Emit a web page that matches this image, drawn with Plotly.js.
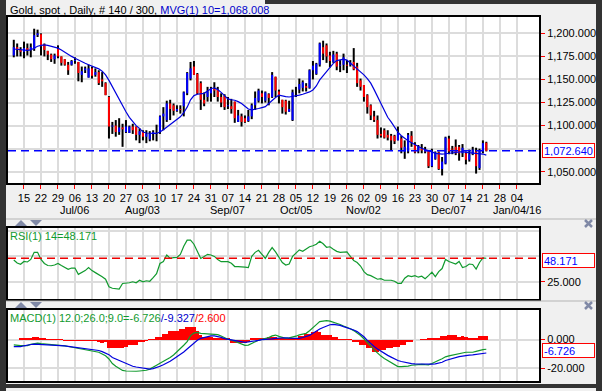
<!DOCTYPE html>
<html><head><meta charset="utf-8">
<script src="https://cdn.plot.ly/plotly-3.0.1.min.js"></script>
<style>html,body{margin:0;padding:0;background:#f0f0f0;}#chart{width:602px;height:391px;}</style>
</head><body><div id="chart"></div>
<script>
const dates = ['2015-06-10','2015-06-11','2015-06-12','2015-06-15','2015-06-16','2015-06-17','2015-06-18','2015-06-19','2015-06-22','2015-06-23',
'2015-06-24','2015-06-25','2015-06-26','2015-06-29','2015-06-30','2015-07-01','2015-07-02','2015-07-03','2015-07-06','2015-07-07',
'2015-07-08','2015-07-09','2015-07-10','2015-07-13','2015-07-14','2015-07-15','2015-07-16','2015-07-17','2015-07-20','2015-07-21',
'2015-07-22','2015-07-23','2015-07-24','2015-07-27','2015-07-28','2015-07-29','2015-07-30','2015-07-31','2015-08-03','2015-08-04',
'2015-08-05','2015-08-06','2015-08-07','2015-08-10','2015-08-11','2015-08-12','2015-08-13','2015-08-14','2015-08-17','2015-08-18',
'2015-08-19','2015-08-20','2015-08-21','2015-08-24','2015-08-25','2015-08-26','2015-08-27','2015-08-28','2015-08-31','2015-09-01',
'2015-09-02','2015-09-03','2015-09-04','2015-09-07','2015-09-08','2015-09-09','2015-09-10','2015-09-11','2015-09-14','2015-09-15',
'2015-09-16','2015-09-17','2015-09-18','2015-09-21','2015-09-22','2015-09-23','2015-09-24','2015-09-25','2015-09-28','2015-09-29',
'2015-09-30','2015-10-01','2015-10-02','2015-10-05','2015-10-06','2015-10-07','2015-10-08','2015-10-09','2015-10-12','2015-10-13',
'2015-10-14','2015-10-15','2015-10-16','2015-10-19','2015-10-20','2015-10-21','2015-10-22','2015-10-23','2015-10-26','2015-10-27',
'2015-10-28','2015-10-29','2015-10-30','2015-11-02','2015-11-03','2015-11-04','2015-11-05','2015-11-06','2015-11-09','2015-11-10',
'2015-11-11','2015-11-12','2015-11-13','2015-11-16','2015-11-17','2015-11-18','2015-11-19','2015-11-20','2015-11-23','2015-11-24',
'2015-11-25','2015-11-26','2015-11-27','2015-11-30','2015-12-01','2015-12-02','2015-12-03','2015-12-04','2015-12-07','2015-12-08',
'2015-12-09','2015-12-10','2015-12-11','2015-12-14','2015-12-15','2015-12-16','2015-12-17','2015-12-18','2015-12-21','2015-12-22'];

const open = [1176,1185,1182,1180,1184,1182,1183,1198,1199,1188, 1181,1177,1172,1183,1175,1172,1166,1166,1170,1169, 1155,1160,1152,1162,1155,1158,1150,1146,1131,1099, 1100,1093,1098,1093,1092,1099,1099,1090,1093,1088, 1085,1091,1093,1093,1110,1106,1124,1122,1116,1118, 1121,1135,1151,1164,1156,1146,1128,1131,1135,1140, 1139,1131,1132,1121,1121,1126,1104,1110,1108,1105, 1110,1122,1127,1135,1127,1134,1131,1153,1137,1128, 1127,1115,1106,1137,1139,1141,1143,1141,1160,1156, 1166,1185,1187,1176,1169,1178,1165,1166,1166,1166, 1169,1164,1149,1144,1133,1122,1110,1106,1091,1095, 1090,1089,1089,1084,1086,1072,1072,1089,1079,1073, 1075,1074,1073,1056,1064,1071,1053,1059,1086,1075, 1077,1077,1070,1070,1063,1069,1072,1054,1073,1081.5];
const high = [1193,1189,1185,1191,1189,1189,1205,1204,1200,1189, 1181,1178,1178,1187,1175,1172,1169,1171,1174,1169, 1164,1164,1166,1164,1162,1160,1158,1147,1132,1104, 1106,1108,1102,1106,1100,1102,1099,1097,1095,1095, 1094,1095,1101,1111,1120,1127,1128,1124,1122,1122, 1137,1158,1169,1170,1157,1148,1136,1142,1142,1147, 1142,1135,1134,1131,1129,1126,1117,1113,1111,1117, 1124,1137,1140,1138,1137,1135,1158,1153,1139,1128, 1128,1127,1139,1142,1151,1149,1146,1161,1170,1168, 1190,1192,1189,1180,1181,1180,1171,1178,1171,1171, 1184,1168,1151,1144,1134,1123,1116,1111,1098,1097, 1095,1091,1090,1099,1089,1084,1092,1094,1082,1079, 1080,1077,1073,1075,1072,1072,1066,1088,1089,1078, 1085,1079,1080,1072,1074,1077,1076,1075,1084,1082.5];
const low = [1174,1175,1175,1173,1176,1174,1181,1196,1176,1175, 1171,1169,1167,1173,1165,1165,1155,1165,1167,1148, 1147,1157,1152,1151,1153,1144,1142,1133,1086,1091, 1088,1090,1077,1092,1092,1091,1084,1081,1084,1081, 1083,1084,1083,1091,1095,1104,1106,1111,1115,1113, 1110,1133,1149,1155,1134,1117,1121,1126,1126,1131, 1126,1120,1117,1118,1113,1103,1104,1099,1103,1104, 1107,1117,1125,1124,1125,1122,1130,1131,1124,1113, 1112,1115,1105,1131,1135,1137,1137,1140,1150,1155, 1164,1171,1168,1163,1168,1160,1158,1160,1157,1164, 1160,1142,1138,1126,1113,1106,1104,1086,1087,1086, 1084,1073,1080,1084,1070,1064,1070,1077,1070,1070, 1070,1070,1054,1055,1063,1052,1046,1058,1069,1069, 1068,1062,1066,1058,1061,1068,1048,1052,1070,1072];
const close = [1185,1182,1180,1184,1182,1185,1198,1200,1186,1182, 1177,1172,1176,1175,1168,1166,1160,1170,1171,1157, 1159,1162,1162,1154,1158,1146,1148,1133,1099,1100, 1093,1098,1096,1099,1099,1095,1090,1094,1088,1091, 1091,1093,1093,1110,1113,1124,1118,1116,1118,1117, 1136,1157,1162,1155,1135,1128,1124,1137,1140,1138, 1131,1125,1120,1122,1118,1108,1111,1104,1104,1110, 1122,1130,1138,1131,1136,1130,1155,1138,1132,1120, 1115,1118,1136,1137,1145,1147,1141,1160,1165,1167, 1189,1178,1175,1170,1177,1164,1166,1174,1165,1168, 1161,1146,1142,1131,1120,1111,1106,1090,1089,1087, 1087,1084,1083,1092,1076,1077,1090,1082,1071,1077, 1073,1072,1056,1072,1071,1053,1061,1087,1072,1074, 1070,1070,1076,1063,1069,1074,1056,1073,1081,1072.64];
const mvg10 = [1183,1182.5,1182,1181.5,1181.5,1182,1184,1186,1187,1187.5, 1187,1186,1185,1184,1182,1179.5,1177,1175,1173,1171, 1169,1167.5,1166,1164.5,1163,1161.5,1159,1155,1149,1142, 1136,1129,1122,1115,1109,1104,1100,1097,1093,1092, 1091.5,1091.5,1091.5,1093,1095.5,1098.5,1101,1104,1106.5,1109.5, 1114,1120,1128,1132.5,1134,1134.5,1135,1137.5,1140,1141, 1139,1136,1133,1129,1128,1127.5,1126,1124,1121,1118, 1117,1117.5,1118.5,1119.5,1120.5,1124,1127.5,1130.5,1133,1132, 1131.4,1131,1131.4,1132,1133,1134,1135,1136.5,1138.6,1143, 1149.5,1154,1158.5,1163,1167.5,1170.5,1171.5,1172,1171,1168, 1164.5,1161,1158,1155,1151,1146,1139,1131.4,1123,1115, 1109,1104,1098,1093,1089,1086,1083.5,1081.5,1079.5,1077, 1075.5,1074,1073,1071.5,1070,1069.5,1069.2,1069.5,1070,1070.5, 1071,1071.5,1071.7,1071,1070.6,1070.3,1070,1069.5,1069.2,1068.008];
const rsi14 = [46.5,43.5,42.2,45,44.5,47,54,54,47,43, 41,40.8,41.5,43,41,39,37.2,38.5,38.5,32.3, 34,36,39,36,34,32.2,30,27.5,20,18.6, 18.4,17.7,23.3,23.3,24,25,24,26.5,25,26, 25.5,29,33,43,45,51.4,48,48.8,49,52, 60,66,66,62,55,48,49.8,52,51.4,50, 47,44.8,44.8,44.8,43.2,40,40,40,39.5,39, 50,54,56,52,48,54,58.7,54.5,49,44, 41.5,42.5,50,53,56.4,55,57,59.5,60.5,62, 65,62.5,59,59.5,57,55,54,54,54.5,50, 46,44,40.5,35,32,31,29.5,27.5,28,26.5, 26.5,26.5,25.5,23.5,23.5,28.5,31,30,31,29.5, 30.5,28,31,34.5,30,35,38,47,45,43.5, 42.5,45,39,40,42.5,42,37.5,44,48.5,48.171];
const macdLine = [-3.7,-4.1,-4.2,-4.2,-4.2,-3.3,-2.6,-2.4,-2.8,-3.0, -3.1,-3.2,-3.3,-3.5,-3.9,-4.3,-4.8,-5.3,-5.6,-6.2, -6.7,-7.1,-7.5,-7.9,-8.4,-8.8,-10,-11.3,-13.5,-16.7, -18.6,-20.2,-21.5,-21.9,-22.1,-22.1,-22.1,-21.9,-21.7,-21.4, -20.6,-19.5,-17.9,-16.5,-15.1,-14.2,-12.5,-10.7,-8.6,-6.2, -3.9,-1.4,2.8,4.6,5.1,4.4,4.2,3.9,3.9,3.7, 3.5,2.5,1.3,0.3,-0.3,-1.3,-2.2,-3.0,-4.0,-3.8, -2.5,-1.2,-0.4,0.2,0.7,1.4,2.6,3.2,2.3,1.5, 0.9,1.2,1.6,2.4,3.3,3.7,4.4,6.2,8.1,10.5, 12.6,13.2,13.3,12.9,12.3,11.5,10.6,9.5,8.8,7.6, 6.3,4.8,2.9,0.6,-2.3,-4.6,-7.2,-9.5,-11.5,-13.2, -14.6,-16.6,-17.8,-18.8,-18.8,-18.8,-18.5,-17.9,-17.6,-17.4, -17.3,-17.5,-17.6,-16.7,-15.8,-14.4,-13.3,-12.0,-11.3,-10.7, -10.3,-9.6,-9.1,-8.8,-8.8,-8.8,-8.2,-7.5,-7.0,-6.726];
const signalLine = [-4.9,-4.9,-4.9,-4.3,-3.7,-3.4,-3.2,-3.3,-3.3,-3.3, -3.5,-3.6,-3.7,-3.9,-4.2,-4.4,-4.7,-5.0,-5.3,-5.6, -6.0,-6.5,-6.7,-7.0,-7.4,-7.6,-8.4,-9.3,-10.5,-12.5, -13.5,-15.0,-16.0,-17.0,-17.9,-18.6,-19.1,-19.5,-19.8,-20.5, -20.6,-20.2,-19.5,-18.6,-17.5,-16.4,-15.1,-13.5,-12.0,-10.5, -8.6,-6.5,-4.3,-2.1,-0.5,0.9,1.6,2.1,2.6,2.6, 2.3,1.6,0.7,0.2,-0.2,-0.5,-0.9,-1.4,-1.9,-1.6, -1.4,-1.0,-0.5,0,0,0.2,0.5,0.9,1.2,1.4, 1.3,1.0,0.9,1.2,0.9,1.5,2.1,3.0,4.4,6.0, 7.4,8.5,9.6,10.4,10.7,10.5,10.0,9.1,8.4,7.6, 6.7,5.6,4.0,2.0,-0.5,-2.8,-4.8,-6.5,-8.1,-9.5, -11.0,-12.2,-13.5,-14.6,-15.3,-15.9,-16.5,-16.8,-17.0,-17.1, -17.2,-17.2,-17.2,-17.1,-16.9,-16.5,-15.8,-14.6,-13.8,-13.0, -12.5,-11.9,-11.5,-11.0,-10.8,-10.6,-10.3,-10.0,-9.8,-9.327];
const macdHist = [-0.5,-0.6,1.2,1.1,0.9,0.8,2.0,1.9,1.0,0.9, 0.5,0.4,0.3,0.3,0.2,-0.9,-1.0,-1.0,-1.1,-1.0, -1.0,-1.1,-1.0,-0.9,-1.0,-2.0,-2.1,-2.0,-6.0,-6.1, -5.9,-5.5,-5.6,-5.4,-3.7,-3.8,-3.6,-1.4,-1.5,-1.3, 0.5,0.6,1.5,2.0,3.7,3.6,6.0,6.1,5.9,7.4, 7.3,9.0,9.1,8.9,6.0,3.3,2.0,2.1,1.9,1.0, 1.0,0.9,0.8,0.9,-2.5,-2.6,-2.4,-2.5,-2.6,-1.4, 1.0,1.1,1.0,0.9,1.0,2.0,2.1,1.9,1.4,1.3, 0.9,0.8,0.9,1.0,2.8,2.7,3.7,3.8,5.6,5.7, 5.5,3.3,3.4,3.2,1.6,1.5,0.5,0.4,0.1,0.1, -1.4,-1.5,-3.7,-3.8,-6.0,-6.1,-8.4,-8.3,-7.2,-7.1, -6.0,-5.9,-4.9,-4.8,-3.7,-3.6,-1.9,-1.8,-0.5,-0.4, 0.5,0.6,0.9,0.8,0.9,1.0,2.6,2.7,3.3,3.4, 3.3,2.1,2.2,2.0,1.4,1.3,1.4,2.6,2.7,2.6];

const tickDates = ['2015-06-15','2015-06-22','2015-06-29','2015-07-06','2015-07-13','2015-07-20','2015-07-27','2015-08-03','2015-08-10','2015-08-17','2015-08-24','2015-08-31','2015-09-07','2015-09-14','2015-09-21','2015-09-28','2015-10-05','2015-10-12','2015-10-19','2015-10-26','2015-11-02','2015-11-09','2015-11-16','2015-11-23','2015-11-30','2015-12-07','2015-12-14','2015-12-21','2015-12-28','2016-01-04'];
const tickDays = ['15','22','29','06','13','20','27','03','10','17','24','31','07','14','21','28','05','12','19','26','02','09','16','23','30','07','14','21','28','04'];
const monthDates = ['2015-07-06','2015-08-03','2015-09-07','2015-10-05','2015-11-02','2015-12-07','2016-01-04'];
const monthText = ['Jul/06','Aug/03','Sep/07','Oct/05','Nov/02','Dec/07','Jan/04/16'];
const priceTicks = [1050,1100,1125,1150,1175,1200];
const priceGridOnly = [1075];

function fmt3(v){
  const s = Math.abs(v).toFixed(3).split('.');
  s[0] = s[0].replace(/\B(?=(\d{3})+(?!\d))/g, ',');
  return (v<0?'-':'') + s[0] + '.' + s[1];
}

const N = dates.length;
const xs = dates.map(d => d + ' 12:00');
const tv = tickDates.map(d => d + ' 12:00');
const bodyHi = open.map((o,i) => Math.max(o, close[i]));
const bodyLo = open.map((o,i) => Math.min(o, close[i]));

const FONT = 'Arial, "Liberation Sans", sans-serif';
const BLUE = '#0000dd', RED = '#ff0000', GREEN = '#119a2e', GRID = '#dcdcdc';

// pixel -> paper helpers (plot area x 8..539, y 17..381)
const PX = p => (p - 8) / 531;
const PY = p => (381 - p) / 364;

const traces = [
  {type:'ohlc', x: xs, open: open, high: high, low: low, close: close, xaxis:'x', yaxis:'y',
   tickwidth: 0, increasing:{line:{color:'#000000', width:2}}, decreasing:{line:{color:'#000000', width:2}}, hoverinfo:'skip', showlegend:false},
  {type:'ohlc', x: xs, open: open, high: bodyHi, low: bodyLo, close: close, xaxis:'x', yaxis:'y',
   tickwidth: 0, increasing:{line:{color:'#0000ff', width:2}}, decreasing:{line:{color:'#ff0000', width:2}}, hoverinfo:'skip', showlegend:false},
  {type:'scatter', mode:'lines', x: xs, y: mvg10, xaxis:'x', yaxis:'y', line:{color: BLUE, width:1.2}, hoverinfo:'skip', showlegend:false},
  {type:'scatter', mode:'lines', x: xs, y: rsi14, xaxis:'x2', yaxis:'y2', line:{color: GREEN, width:1.2}, hoverinfo:'skip', showlegend:false},
  {type:'bar', x: xs, y: macdHist, xaxis:'x3', yaxis:'y3', width: 86400000, marker:{color: RED, line:{width:0}}, hoverinfo:'skip', showlegend:false},
  {type:'scatter', mode:'lines', x: xs, y: macdLine, xaxis:'x3', yaxis:'y3', line:{color: GREEN, width:1.2}, hoverinfo:'skip', showlegend:false},
  {type:'scatter', mode:'lines', x: xs, y: signalLine, xaxis:'x3', yaxis:'y3', line:{color: BLUE, width:1.2}, hoverinfo:'skip', showlegend:false}
];

const xRange = ['2015-06-08 19:12', '2016-01-13 00:00'];
const xBase = {type:'date', range: xRange, rangebreaks:[{bounds:['sat','mon']}], tickmode:'array', tickvals: tv,
  showgrid:true, gridcolor: GRID, gridwidth:2, showline:true, linecolor:'#000', linewidth:2, mirror:true,
  zeroline:false, fixedrange:true, rangeslider:{visible:false}, tickangle:0, tickfont:{family: FONT, size:11, color:'#000'}};
const yBase = {side:'right', tickmode:'array', showgrid:true, gridcolor: GRID, gridwidth:2, showline:true, linecolor:'#000',
  linewidth:2, mirror:true, zeroline:false, fixedrange:true, ticks:'outside', ticklen:4, tickwidth:1, tickcolor: RED,
  tickfont:{family: FONT, size:11, color:'#000'}};

const annotations = [
  {xref:'paper', yref:'paper', x:PX(8), y:PY(10), xanchor:'left', yanchor:'middle', showarrow:false, align:'left',
   text: 'Gold, spot , Daily, # ' + N + ' / 300, <span style="color:#0000cc">MVG(1) 10=' + fmt3(mvg10[N-1]) + '</span>',
   font:{family: FONT, size:11, color:'#000'}},
  {xref:'paper', yref:'paper', x:PX(8), y:PY(236), xanchor:'left', yanchor:'middle', showarrow:false, align:'left',
   text: 'RSI(1) 14=' + fmt3(rsi14[N-1]), font:{family: FONT, size:11, color: GREEN}},
  {xref:'paper', yref:'paper', x:PX(8), y:PY(317.5), xanchor:'left', yanchor:'middle', showarrow:false, align:'left',
   text: 'MACD(1) 12.0;26.0;9.0=' + fmt3(macdLine[N-1]) + '<span style="color:#0000cc">/' + fmt3(signalLine[N-1]) + '</span><span style="color:#ff0000">/' + fmt3(macdHist[N-1]) + '</span>',
   font:{family: FONT, size:11, color: GREEN}},
  {xref:'paper', yref:'paper', x:PX(542), y:PY(150), xanchor:'left', yanchor:'middle', showarrow:false, align:'left',
   text: fmt3(close[N-1]), font:{family: FONT, size:11, color:'#0000ff'}, bgcolor:'#ffffff', bordercolor:'#ff0000', borderwidth:1, borderpad:1, width:49, height:11},
  {xref:'paper', yref:'paper', x:PX(542), y:PY(260), xanchor:'left', yanchor:'middle', showarrow:false, align:'left',
   text: fmt3(rsi14[N-1]), font:{family: FONT, size:11, color:'#0000ff'}, bgcolor:'#ffffff', bordercolor:'#ff0000', borderwidth:1, borderpad:1, width:49, height:11},
  {xref:'paper', yref:'paper', x:PX(542), y:PY(350), xanchor:'left', yanchor:'middle', showarrow:false, align:'left',
   text: fmt3(macdLine[N-1]), font:{family: FONT, size:11, color:'#0000ff'}, bgcolor:'#ffffff', bordercolor:'#ff0000', borderwidth:1, borderpad:1, width:49, height:11}
];
monthDates.forEach((d,i) => annotations.push({xref:'x', yref:'paper', x: d + ' 12:00', y: PY(210), xanchor:'center', yanchor:'middle',
  showarrow:false, text: monthText[i], font:{family: FONT, size:11, color:'#000'}}));

const layout = {
  width: 602, height: 391, margin:{l:8, r:63, t:17, b:10}, paper_bgcolor:'#f0f0f0', plot_bgcolor:'#ffffff',
  showlegend:false, bargap:0, dragmode:false,
  xaxis: Object.assign({}, xBase, {anchor:'y', ticktext: tickDays, ticks:'outside', ticklen:4, tickwidth:1, tickcolor: RED}),
  xaxis2: Object.assign({}, xBase, {anchor:'y2', matches:'x', showticklabels:false, ticks:''}),
  xaxis3: Object.assign({}, xBase, {anchor:'y3', matches:'x', showticklabels:false, ticks:''}),
  yaxis: Object.assign({}, yBase, {anchor:'x', domain:[PY(183), PY(17)], range:[1037.8, 1217.7], tickvals: priceTicks, ticktext: priceTicks.map(fmt3),
    minor:{tickmode:'array', tickvals: priceGridOnly, showgrid:true, gridcolor: GRID, gridwidth:2, ticks:''}}),
  yaxis2: Object.assign({}, yBase, {anchor:'x2', domain:[PY(299), PY(228)], range:[8, 78], tickvals:[25], ticktext:['25.000'],
    minor:{tickmode:'array', tickvals:[50,75], showgrid:true, gridcolor: GRID, gridwidth:2, ticks:''}}),
  yaxis3: Object.assign({}, yBase, {anchor:'x3', domain:[PY(381), PY(310)], range:[-28.9, 20.7], tickvals:[-20,0], ticktext:['-20.000','0.000'],
    minor:{tickmode:'array', tickvals:[20], showgrid:true, gridcolor: GRID, gridwidth:2, ticks:''}}),
  shapes: [
    {type:'line', xref:'paper', x0:0, x1:1, yref:'y', y0: close[N-1], y1: close[N-1], line:{color:'#0000ff', width:1.5, dash:'8px,5px'}},
    {type:'line', xref:'paper', x0:0, x1:1, yref:'y2', y0: rsi14[N-1], y1: rsi14[N-1], line:{color:'#ee0000', width:1.5, dash:'8px,5px'}},
    {type:'rect', xref:'paper', yref:'paper', x0:PX(0), x1:PX(6), y0:PY(391), y1:PY(0), fillcolor:'#333333', line:{width:0}, layer:'below'},
    {type:'rect', xref:'paper', yref:'paper', x0:PX(596), x1:PX(602), y0:PY(391), y1:PY(0), fillcolor:'#333333', line:{width:0}, layer:'below'},
    {type:'rect', xref:'paper', yref:'paper', x0:PX(265), x1:PX(602), y0:PY(4), y1:PY(0), fillcolor:'#333333', line:{width:0}, layer:'below'},
    {type:'rect', xref:'paper', yref:'paper', x0:PX(0), x1:PX(602), y0:PY(388), y1:PY(384), fillcolor:'#333333', line:{width:0}, layer:'below'},
    {type:'line', xref:'paper', yref:'paper', x0:PX(6), x1:PX(596), y0:PY(219), y1:PY(219), line:{color:'#b4b4b4', width:1}},
    {type:'line', xref:'paper', yref:'paper', x0:PX(6), x1:PX(596), y0:PY(301), y1:PY(301), line:{color:'#b4b4b4', width:1}},
    {type:'path', xref:'paper', yref:'paper', path:`M${PX(15)},${PY(226)} L${PX(27)},${PY(226)} L${PX(21)},${PY(220)} Z`, fillcolor:'#8089a6', line:{width:0}},
    {type:'path', xref:'paper', yref:'paper', path:`M${PX(30)},${PY(220)} L${PX(42)},${PY(220)} L${PX(36)},${PY(226)} Z`, fillcolor:'#8089a6', line:{width:0}},
    {type:'path', xref:'paper', yref:'paper', path:`M${PX(15)},${PY(308)} L${PX(27)},${PY(308)} L${PX(21)},${PY(302)} Z`, fillcolor:'#8089a6', line:{width:0}},
    {type:'path', xref:'paper', yref:'paper', path:`M${PX(30)},${PY(302)} L${PX(42)},${PY(302)} L${PX(36)},${PY(308)} Z`, fillcolor:'#8089a6', line:{width:0}},
    {type:'path', xref:'paper', yref:'paper', path:`M${PX(585)},${PY(220)} L${PX(592)},${PY(227)} M${PX(592)},${PY(220)} L${PX(585)},${PY(227)}`, line:{color:'#8089a6', width:2.5}},
    {type:'path', xref:'paper', yref:'paper', path:`M${PX(585)},${PY(302)} L${PX(592)},${PY(309)} M${PX(592)},${PY(302)} L${PX(585)},${PY(309)}`, line:{color:'#8089a6', width:2.5}}
  ],
  annotations: annotations
};

Plotly.newPlot('chart', traces, layout, {displayModeBar:false, staticPlot:true});
</script>
</body></html>
